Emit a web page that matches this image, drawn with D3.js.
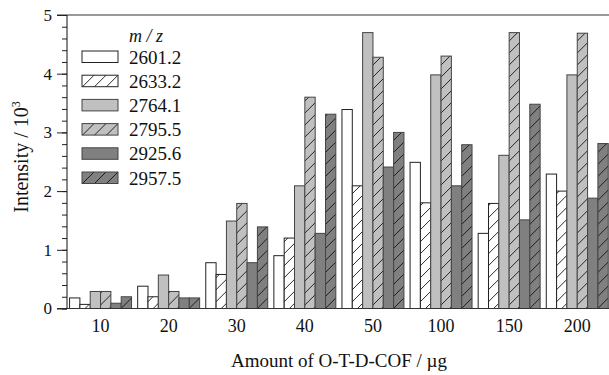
<!DOCTYPE html>
<html>
<head>
<meta charset="utf-8">
<script src="https://cdn.jsdelivr.net/npm/d3@7"></script>
<style>
  html, body { margin: 0; padding: 0; background: #fff; }
  svg { display: block; }
  svg text { font-family: "Liberation Serif", "Times New Roman", serif; }
</style>
</head>
<body>
<svg id="chart" width="609" height="375"></svg>
<script>
// Sample amounts (µg) on the x axis
const amounts = ["10", "20", "30", "40", "50", "100", "150", "200"];

// m/z series shown for every amount
const seriesNames = ["2601.2", "2633.2", "2764.1", "2795.5", "2925.6", "2957.5"];

// Intensities (×10³) per series, one value per amount
const s2601 = [0.18, 0.38, 0.78, 0.90, 3.39, 2.49, 1.28, 2.29];
const s2633 = [0.07, 0.20, 0.58, 1.20, 2.09, 1.80, 1.79, 2.00];
const s2764 = [0.29, 0.57, 1.49, 2.09, 4.70, 3.98, 2.61, 3.98];
const s2795 = [0.29, 0.29, 1.79, 3.60, 4.28, 4.30, 4.70, 4.69];
const s2925 = [0.09, 0.18, 0.78, 1.28, 2.41, 2.09, 1.51, 1.88];
const s2957 = [0.20, 0.18, 1.39, 3.31, 3.00, 2.79, 3.48, 2.81];
const seriesValues = [s2601, s2633, s2764, s2795, s2925, s2957];

const yTicks = [0, 1, 2, 3, 4, 5];

// Fill style for each series: base colour + optional hatching
const fills = ["#ffffff", "#ffffff", "#c0c0c0", "#c0c0c0", "#808080", "#808080"];
const hatched = [false, true, false, true, false, true];
const strokes = ["#222", "#222", "#444", "#444", "#444", "#444"];

const FONT = "Liberation Serif, Times New Roman, serif";
const svg = d3.select("#chart");
const x0 = 67, yTop = 15, yBase = 308.5;

// Hatch patterns
const defs = svg.append("defs");
fills.forEach((c, i) => {
  if (!hatched[i]) return;
  const p = defs.append("pattern")
    .attr("id", "hatch" + i)
    .attr("patternUnits", "userSpaceOnUse")
    .attr("width", 12).attr("height", 12);
  p.append("rect").attr("width", 12).attr("height", 12).attr("fill", c);
  p.append("path").attr("d", "M-3,15 L15,-3").attr("stroke", "#111").attr("stroke-width", 0.9);
});
const fillOf = i => hatched[i] ? `url(#hatch${i})` : fills[i];

const y = d3.scaleLinear().domain([0, 5]).range([yBase, yTop]);
const xGroup = d3.scaleBand().domain(amounts).range([66.5, 611.3]).paddingInner(0.09).paddingOuter(0.045);
const xSeries = d3.scaleBand().domain(d3.range(seriesNames.length)).range([0, xGroup.bandwidth()]);

// Bars
const groups = svg.append("g").selectAll("g")
  .data(amounts)
  .join("g")
  .attr("transform", d => `translate(${xGroup(d)},0)`);

groups.selectAll("rect")
  .data((d, gi) => seriesValues.map((vals, si) => ({ si, v: vals[gi] })))
  .join("rect")
  .attr("x", d => xSeries(d.si))
  .attr("width", xSeries.bandwidth())
  .attr("y", d => y(d.v))
  .attr("height", d => y(0) - y(d.v))
  .attr("fill", d => fillOf(d.si))
  .attr("stroke", d => strokes[d.si])
  .attr("stroke-width", 1);

// Top frame line
svg.append("line")
  .attr("x1", 57).attr("x2", 609).attr("y1", y(5)).attr("y2", y(5))
  .attr("stroke", "#777").attr("stroke-width", 1.6);

// Bottom baseline
svg.append("line")
  .attr("x1", 57).attr("x2", 609).attr("y1", y(0)).attr("y2", y(0))
  .attr("stroke", "#333").attr("stroke-width", 1.2);

// Y axis with minor ticks
const yAxis = svg.append("g").attr("transform", `translate(${x0},0)`);
yAxis.call(d3.axisLeft(y).tickValues(d3.range(0, 5.01, 0.2)).tickSize(5).tickFormat(""))
  .call(g => g.select(".domain").remove());
yAxis.call(g => g.selectAll(".tick line").attr("stroke", "#222"));
const yMajor = svg.append("g").attr("transform", `translate(${x0},0)`)
  .call(d3.axisLeft(y).tickValues(yTicks).tickSize(10).tickPadding(5).tickFormat(d3.format("d")));
yMajor.attr("font-family", FONT).attr("font-size", 17);
yMajor.select(".domain").attr("stroke", "#111").attr("d", `M0,${y(0)}V${y(5)}`);
yMajor.selectAll(".tick line").attr("stroke", "#222");
yMajor.selectAll("text").attr("fill", "#111");

// X category labels, centred under each group
const xAxis = svg.append("g").attr("transform", `translate(0,${y(0)})`)
  .call(d3.axisBottom(xGroup).tickSize(0).tickPadding(11));
xAxis.select(".domain").remove();
xAxis.attr("font-family", FONT).attr("font-size", 18);
xAxis.selectAll("text").attr("fill", "#111");

// Axis titles
svg.append("text")
  .attr("x", 339).attr("y", 367)
  .attr("text-anchor", "middle")
  .attr("font-family", FONT)
  .attr("font-size", 19).attr("fill", "#111")
  .text("Amount of O-T-D-COF / µg");

const yt = svg.append("text")
  .attr("transform", `translate(28,157) rotate(-90)`)
  .attr("text-anchor", "middle")
  .attr("font-family", FONT)
  .attr("font-size", 20).attr("fill", "#111");
yt.append("tspan").text("Intensity / 10");
yt.append("tspan").attr("dy", -8).attr("font-size", 12).text("3");

// Legend
const legend = svg.append("g").attr("font-family", FONT);
legend.append("text")
  .attr("x", 129).attr("y", 42)
  .attr("font-size", 18).attr("font-style", "italic").attr("fill", "#111")
  .text("m / z");
const rows = legend.selectAll("g.row")
  .data(seriesNames)
  .join("g")
  .attr("class", "row")
  .attr("transform", (d, i) => `translate(82,${51 + i * 24.2})`);
rows.append("rect")
  .attr("width", 36).attr("height", 11.5)
  .attr("fill", (d, i) => fillOf(i))
  .attr("stroke", (d, i) => strokes[i]).attr("stroke-width", 1);
rows.append("text")
  .attr("x", 47).attr("y", 12.5)
  .attr("font-size", 19).attr("fill", "#111")
  .text(d => d);
</script>
</body>
</html>
